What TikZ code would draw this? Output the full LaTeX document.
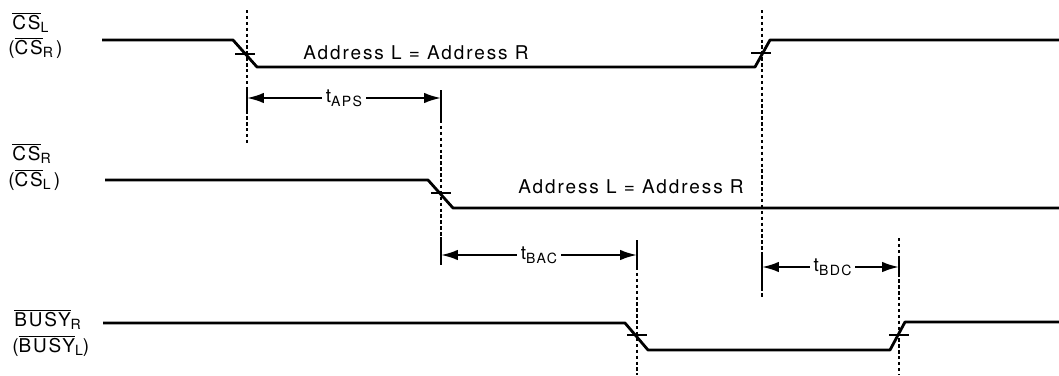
\documentclass[tikz,border=0pt]{standalone}
\usepackage{fontspec}
\setmainfont[LetterSpace=10]{TeX Gyre Heros}
\usetikzlibrary{arrows.meta}

\newcommand{\sub}[1]{\raisebox{-0.2em}{\fontsize{10}{10}\selectfont #1}}
\newcommand{\ovl}[1]{\ensuremath{\overline{\mbox{#1}}}}

\tikzset{
  sig/.style={line width=2pt, line join=round},
  xmark/.style={line width=1.4pt},
  guide/.style={line width=1.4pt, dash pattern=on 2.4pt off 1.8pt},
  bar/.style={line width=1.4pt},
  dimline/.style={line width=1.4pt, {Latex[length=4.2mm,width=2.6mm]}-{Latex[length=4.2mm,width=2.6mm]}},
  lbl/.style={font=\fontsize{13.5}{15}\selectfont, inner sep=0pt, anchor=base west},
  tlbl/.style={font=\fontsize{13.5}{15}\selectfont, fill=white, inner xsep=2.5pt, inner ysep=1pt}
}

\begin{document}
\begin{tikzpicture}[x=0.025cm, y=-0.025cm]
\useasboundingbox (0,0) rectangle (1059,375);

% signal names
\node[lbl] (csl)   at (12,29)  {\ovl{CS}\sub{L}};
\node[lbl] (csl2)  at (8,54)   {(\ovl{CS}\sub{R}\,)};
\node[lbl] (csr)   at (12,160) {\ovl{CS}\sub{R}};
\node[lbl] (csr2)  at (8,186)  {(\ovl{CS}\sub{L}\,)};
\node[lbl] (busy)  at (14,326) {\ovl{BUSY}\sub{R}};
\node[lbl] (busy2) at (12,352) {(\ovl{BUSY}\sub{L})};

% waveforms
\draw[sig] (102,40) -- (233,40) -- (257,67) -- (755,67) -- (770,40) -- (1059,40);
\draw[sig] (105,180) -- (428,180) -- (453,208) -- (1059,208);
\draw[sig] (103,323) -- (625,323) -- (648,350) -- (890,350) -- (905,322) -- (1059,322);
\node[lbl] (addr1) at (303,59)  {Address L = Address R};
\node[lbl] (addr2) at (518,193) {Address L = Address R};

% crossing marks
\foreach \x/\y in {245/54, 761/53, 441/193, 637/335, 899/335} {
  \draw[xmark] (\x-10,\y) -- (\x+10,\y);
}

% reference lines
\draw[guide] (247,10) -- (247,143);
\draw[guide] (441,120) -- (441,237);
\draw[guide] (637,267) -- (637,375);
\draw[guide] (762,10) -- (762,297);
\draw[guide] (899,238) -- (899,375);
\foreach \x/\a/\b in {247/88/110, 441/90/120, 441/237/265, 637/240/267, 762/255/288, 899/258/277} {
  \draw[bar] (\x,\a) -- (\x,\b);
}

% timing parameters
\coordinate (aps-a) at (247,98);
\coordinate (aps-b) at (441,98);
\coordinate (bac-a) at (441,255);
\coordinate (bac-b) at (637,255);
\coordinate (bdc-a) at (762,267);
\coordinate (bdc-b) at (899,267);
\draw[dimline] (aps-a) -- node[tlbl] (aps) {t\sub{APS}} (aps-b);
\draw[dimline] (bac-a) -- node[tlbl] (bac) {t\sub{BAC}} (bac-b);
\draw[dimline] (bdc-a) -- node[tlbl, xshift=1.5pt] (bdc) {t\sub{BDC}} (bdc-b);
\end{tikzpicture}
\end{document}
